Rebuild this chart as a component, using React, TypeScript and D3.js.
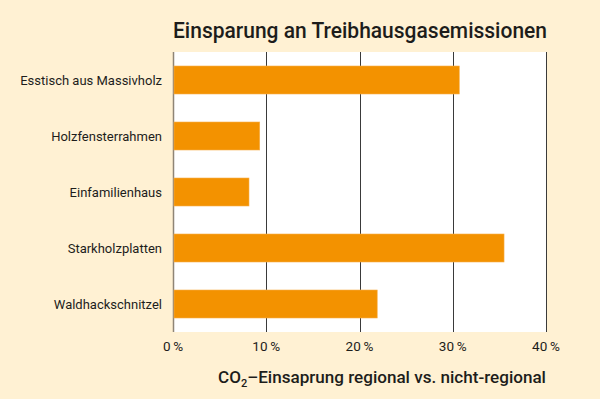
import React from "react";
import * as d3 from "d3";

const categories = ["Esstisch aus Massivholz", "Holzfensterrahmen", "Einfamilienhaus", "Starkholzplatten", "Waldhackschnitzel"];
const values = [30.7, 9.3, 8.15, 35.5, 21.9];
const ticks = [0, 10, 20, 30, 40];
const title = "Einsparung an Treibhausgasemissionen";

export default function App() {
  const W = 600, H = 399;
  const left = 173, right = 546, top = 52, bottom = 332;
  const x = d3.scaleLinear().domain([0, 40]).range([left, right]);
  const y = d3.scaleBand<string>().domain(categories).range([top, bottom]).paddingInner(0.5).paddingOuter(0.25);
  const font = "Roboto, 'Noto Sans', sans-serif";
  const ink = "#1d1d1b";
  return (
    <svg width={W} height={H} style={{ position: "absolute", left: 0, top: 0, display: "block" }}>
      <rect x={0} y={0} width={W} height={H} fill="#fff1d3" />
      <rect x={left} y={top} width={right - left} height={bottom - top} fill="#ffffff" />
      {ticks.map((t) => (
        <line key={t} x1={Math.round(x(t)) + 0.5} x2={Math.round(x(t)) + 0.5} y1={top} y2={bottom}
          stroke={t === 0 ? "#8f8576" : "#3a3a3a"} strokeWidth={t === 0 ? 1.5 : 1} />
      ))}
      {categories.map((c, i) => (
        <rect key={c} x={x(0) + 1} y={y(c)!} width={x(values[i]) - x(0) - 1} height={y.bandwidth()}
          fill="#f39200" stroke="#f7b04a" strokeWidth={0.6} />
      ))}
      {categories.map((c) => (
        <text key={c} x={162} y={y(c)! + y.bandwidth() / 2} dy="0.35em" textAnchor="end"
          fontFamily={font} fontSize={13} fill={ink}>{c}</text>
      ))}
      {ticks.map((t) => (
        <text key={t} x={x(t)} y={351} textAnchor="middle" fontFamily={font} fontSize={13.5} fill={ink}>{`${t}\u2009%`}</text>
      ))}
      <text x={173} y={38} fontFamily={font} fontWeight={500} fontSize={22} fill={ink}
        textLength={374} lengthAdjust="spacingAndGlyphs">{title}</text>
      <text x={218} y={383} fontFamily={font} fontWeight={500} fontSize={17} fill={ink}
        textLength={328} lengthAdjust="spacingAndGlyphs">
        CO<tspan fontSize={11} dy={4}>2</tspan><tspan dy={-4}>–Einsaprung regional vs. nicht-regional</tspan>
      </text>
    </svg>
  );
}
